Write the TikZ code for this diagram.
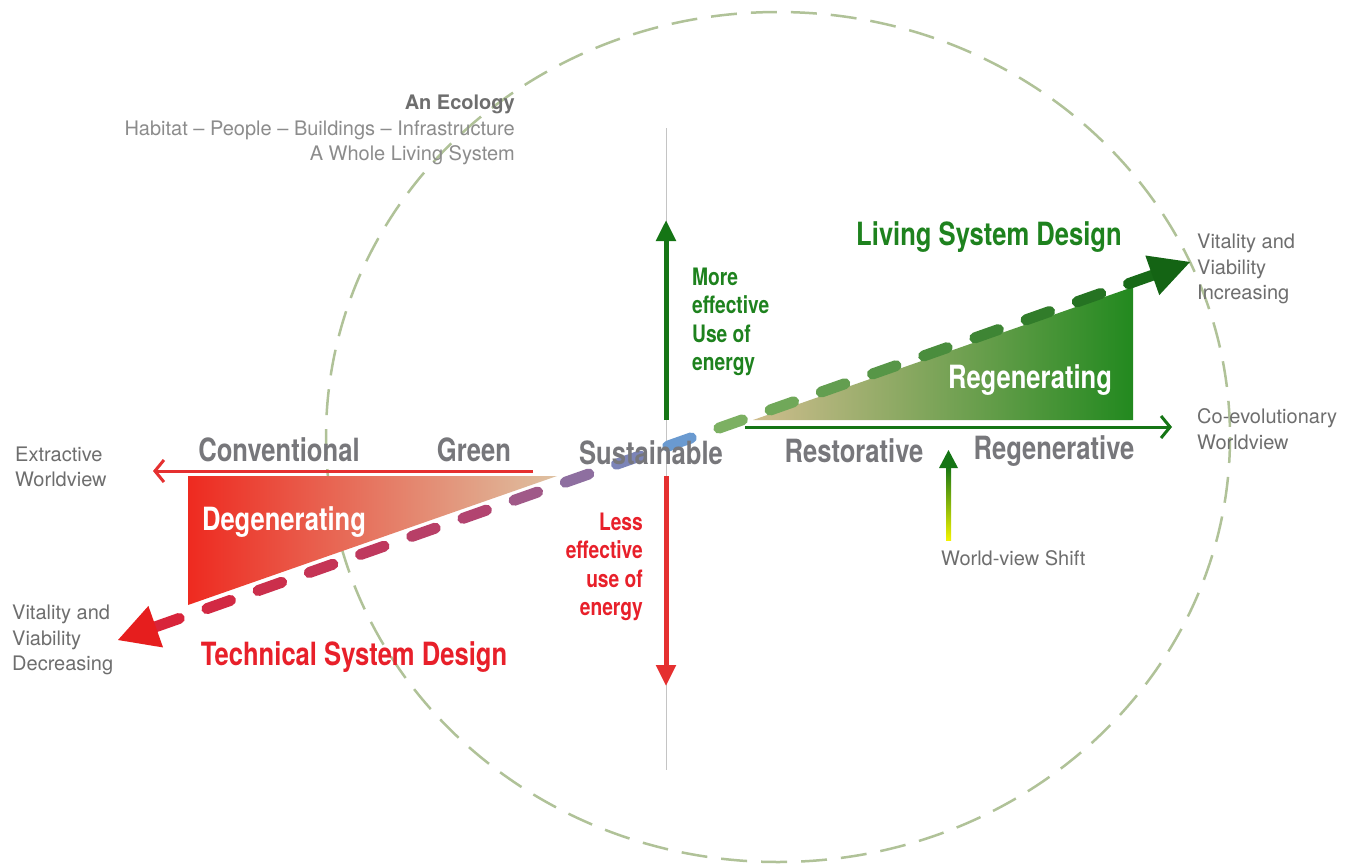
\documentclass[tikz,border=0pt]{standalone}
\usepackage{fontspec}
\setmainfont{TeX Gyre Heros}
\newfontfamily\condfont[FakeStretch=0.8]{TeX Gyre Heros}
\usepackage{tikz}
\usetikzlibrary{arrows.meta,calc}
\definecolor{labelgray}{HTML}{77777B}
\definecolor{notegray}{HTML}{6E6E6E}
\definecolor{lightnote}{HTML}{8C8C8C}
\definecolor{ringgreen}{HTML}{B0C298}
\definecolor{axisgray}{HTML}{C4C4C4}
\definecolor{livgreen}{HTML}{1E821E}
\definecolor{techred}{HTML}{E8202A}
\definecolor{arrowred}{HTML}{E53030}
\definecolor{arrowgreen}{HTML}{157515}
\definecolor{degred}{HTML}{EE2A20}
\definecolor{degmid}{HTML}{EC7A5C}
\definecolor{degtan}{HTML}{DEC2A2}
\definecolor{regtan}{HTML}{CFBD8E}
\definecolor{regreen}{HTML}{22891F}
\definecolor{dashred}{HTML}{D8243A}
\definecolor{dashmaroon}{HTML}{B24470}
\definecolor{dashblue}{HTML}{6A9AD0}
\definecolor{dashlight}{HTML}{7CB062}
\definecolor{dashdark}{HTML}{186A18}
\definecolor{headred}{HTML}{E61E1E}
\definecolor{headgreen}{HTML}{146414}
\definecolor{shiftyellow}{HTML}{F2F200}

\begin{document}
\begin{tikzpicture}[
      x=1pt, y=-1pt,
      tlabel/.style={font={\condfont\bfseries\fontsize{32}{36}\selectfont}, text=labelgray, inner sep=0pt},
      wlabel/.style={tlabel, text=white},
      glabel/.style={tlabel, text=livgreen},
      rlabel/.style={tlabel, text=techred},
      gnote/.style={font={\condfont\bfseries\fontsize{24}{28.5}\selectfont}, text=livgreen, inner sep=0pt},
      rnote/.style={gnote, text=techred},
      note/.style={font={\fontsize{20}{25.5}\selectfont}, text=notegray, inner sep=0pt, anchor=west, align=left},
      ecoring/.style={draw=ringgreen, line width=2.5pt, dash pattern=on 26pt off 14pt},
      axisline/.style={draw=axisgray, line width=1pt},
      uparrow/.style={draw=arrowgreen, line width=5pt, -{Triangle[length=21pt,width=19pt]}},
      downarrow/.style={draw=arrowred, line width=5pt, -{Triangle[length=21pt,width=19pt]}},
      redarrow/.style={draw=arrowred, line width=3pt, -{Straight Barb[length=9pt,width=22pt]}},
      greenarrow/.style={draw=arrowgreen, line width=3pt, -{Straight Barb[length=9pt,width=22pt]}},
      dashseg/.style={line width=11pt, line cap=round}
      ]
      \useasboundingbox (0,0) rectangle (1349,865);
      \fill[white] (0,0) rectangle (1349,865);

      \draw[ecoring] (778,437) ellipse [x radius=452, y radius=425];

      \coordinate (vtop) at (666,128);
      \coordinate (vbot) at (666,770);
      \draw[axisline] (vtop) -- (vbot);

      \shade[left color=degred, middle color=degmid, right color=degtan] (188,476) -- (557,476) -- (188,605) -- cycle;
      \shade[left color=regtan, right color=regreen] (753,420) -- (1133,420) -- (1133,287) -- cycle;

      \coordinate (upS) at (666,420);
      \coordinate (upE) at (666,220);
      \coordinate (downS) at (666,476);
      \coordinate (downE) at (666,686);
      \draw[uparrow] (upS) -- (upE);
      \draw[downarrow] (downS) -- (downE);

      \coordinate (extS) at (533,471);
      \coordinate (extE) at (153,471);
      \coordinate (coS) at (745,427);
      \coordinate (coE) at (1172,427);
      \draw[redarrow] (extS) -- (extE);
      \draw[greenarrow] (coS) -- (coE);

      \coordinate (tipL) at (118,640);
      \coordinate (tipR) at (1190,262);
      \coordinate (dashS) at ($(tipL)!40pt!(tipR)$);
      \coordinate (dashE) at ($(tipR)!40pt!(tipL)$);
      \foreach \i in {0,...,19}{
        \pgfmathsetmacro{\da}{\i*54.3/1057}
        \pgfmathsetmacro{\db}{(\i*54.3+25)/1057}
        \ifnum\i<7
          \pgfmathtruncatemacro{\p}{\i*100/6}
          \colorlet{dashcol}{dashmaroon!\p!dashred}
        \else\ifnum\i<11
          \pgfmathtruncatemacro{\p}{(\i-6)*25}
          \colorlet{dashcol}{dashblue!\p!dashmaroon}
        \else
          \pgfmathtruncatemacro{\p}{(\i-11)*100/8}
          \colorlet{dashcol}{dashdark!\p!dashlight}
        \fi\fi
        \draw[dashseg, draw=dashcol] ($(dashS)!\da!(dashE)$) -- ($(dashS)!\db!(dashE)$);
      }
      \fill[headred] (tipL) -- ($(dashS)!22pt!90:(tipR)$) -- ($(dashS)!22pt!-90:(tipR)$) -- cycle;
      \fill[headgreen] (tipR) -- ($(dashE)!21pt!90:(tipL)$) -- ($(dashE)!21pt!-90:(tipL)$) -- cycle;

      \shade[bottom color=shiftyellow, top color=arrowgreen] (946,540) rectangle (951,466);
      \fill[arrowgreen] (939,468) -- (948.5,450) -- (958,468) -- cycle;

      \node[tlabel] (conv) at (279,450) {Conventional};
      \node[tlabel] (green) at (474,450) {Green};
      \node[tlabel] (sust) at (651,453) {Sustainable};
      \node[tlabel] (rest) at (854,451) {Restorative};
      \node[tlabel] (regv) at (1054,451) {Regenerative};
      \node[wlabel] (degen) at (284,522) {Degenerating};
      \node[wlabel] (regen) at (1030,380) {Regenerating};
      \node[glabel] (living) at (989,237) {Living System Design};
      \node[rlabel] (technical) at (354,657) {Technical System Design};
      \node[gnote, anchor=west, align=left] (more) at (692,322) {More\\effective\\Use of\\energy};
      \node[rnote, anchor=east, align=right] (less) at (643,567) {Less\\effective\\use of\\energy};

      \node[note, anchor=east, align=right, text=lightnote] (ecology) at (515,130) {{\bfseries\color{notegray}An Ecology}\\Habitat – People – Buildings – Infrastructure\\A Whole Living System};
      \node[note] (extract) at (15,467) {Extractive\\Worldview};
      \node[note] (decr) at (12,640) {Vitality and\\Viability\\Decreasing};
      \node[note] (incr) at (1197,269) {Vitality and\\Viability\\Increasing};
      \node[note] (coevo) at (1197,429) {Co-evolutionary\\Worldview};
      \node[note] (shift) at (941,558) {World-view Shift};
    \end{tikzpicture}
\end{document}
